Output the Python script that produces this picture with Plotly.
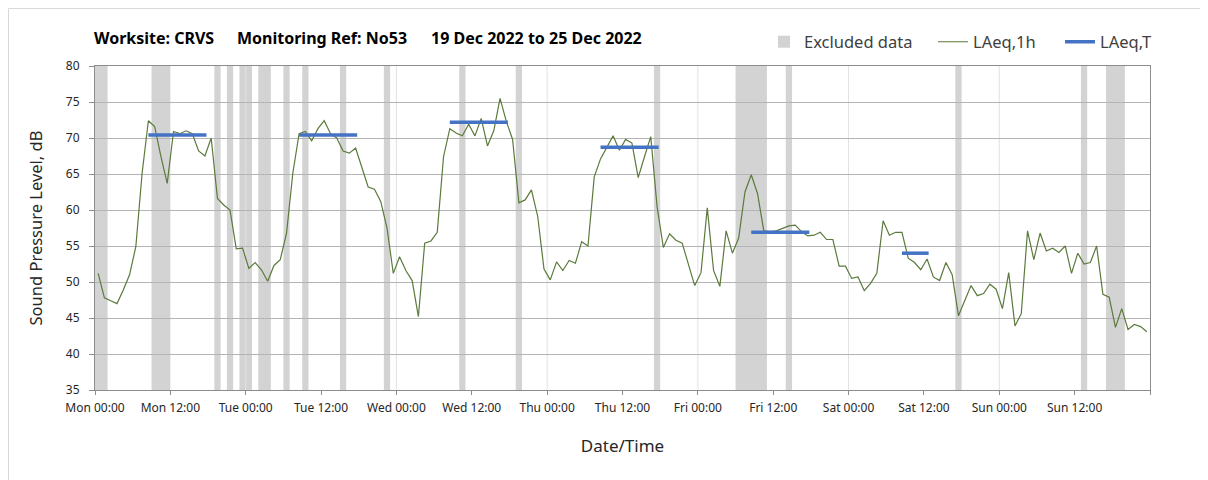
import datetime as dt
import plotly.graph_objects as go

# ---------------- data ----------------
START = dt.datetime(2022, 12, 19)  # Monday 00:00

# hourly LAeq,1h values (dB), one per hour from Mon 00:00
LAEQ_1H = [51.2, 47.8, 47.4, 47.0, 48.9, 51.0, 54.9, 65.1, 72.4, 71.6,
           67.4, 63.7, 70.9, 70.6, 71.0, 70.6, 68.2, 67.5, 70.0, 61.6,
           60.7, 60.0, 54.6, 54.7, 51.9, 52.7, 51.7, 50.1, 52.3, 53.1,
           56.8, 65.1, 70.6, 70.9, 69.6, 71.3, 72.4, 70.6, 70.0, 68.2,
           67.9, 68.6, 65.9, 63.2, 62.9, 61.2, 57.5, 51.2, 53.5, 51.6,
           50.2, 45.2, 55.4, 55.7, 56.9, 67.4, 71.3, 70.7, 70.3, 71.9,
           70.3, 72.7, 68.9, 71.0, 75.5, 72.3, 69.8, 61.0, 61.4, 62.8,
           59.1, 51.8, 50.3, 52.8, 51.6, 53.0, 52.6, 55.6, 55.0, 64.6,
           67.1, 68.6, 70.3, 68.3, 69.8, 69.3, 64.5, 67.4, 70.2, 60.5,
           54.8, 56.7, 55.8, 55.4, 52.6, 49.5, 51.3, 60.3, 51.6, 49.4,
           57.1, 54.0, 56.1, 62.5, 64.9, 62.3, 57.1, 57.0, 57.1, 57.5,
           57.8, 57.9, 57.0, 56.4, 56.5, 56.9, 55.9, 55.9, 52.2, 52.2,
           50.5, 50.7, 48.8, 49.8, 51.2, 58.5, 56.5, 56.9, 56.9, 53.3,
           52.7, 51.7, 53.2, 50.7, 50.2, 52.7, 51.0, 45.3, 47.4, 49.5,
           48.1, 48.4, 49.7, 49.0, 46.3, 51.3, 43.9, 45.6, 57.1, 53.1,
           56.8, 54.3, 54.7, 54.1, 55.0, 51.2, 54.0, 52.5, 52.7, 55.0,
           48.3, 47.9, 43.7, 46.3, 43.4, 44.1, 43.8, 43.1]

# excluded periods, hours from Mon 00:00
EXCLUDED_START_H = [0, 9, 19, 21, 23, 26, 30, 33, 39, 46, 58, 67, 89, 102, 110, 137, 157, 161]
EXCLUDED_END_H = [2, 12, 20, 22, 25, 28, 31, 34, 40, 47, 59, 68, 90, 107, 111, 138, 158, 164]

# LAeq,T working-period levels
LAEQT_START_H = [8.5, 32.5, 56.5, 80.5, 104.5, 128.5]
LAEQT_END_H = [17.75, 41.75, 65.75, 89.75, 113.75, 132.75]
LAEQT_VALUE = [70.4, 70.4, 72.2, 68.7, 56.9, 54.0]

TICK_HOURS = list(range(0, 169, 12))
DAY_HOURS = list(range(24, 168, 24))
Y_MIN, Y_MAX = 35, 80

TITLE_PARTS = ["Worksite: CRVS", "Monitoring Ref: No53", "19 Dec 2022 to 25 Dec 2022"]

# ---------------- helpers ----------------
def t(h):
    return START + dt.timedelta(hours=h)

OFF = 8                     # page offset of the figure (body margin)
W, H = 1208 - OFF, 480 - OFF
PL, PR, PT, PB = 95 - OFF, 1150 - OFF, 66 - OFF, 390 - OFF  # plot area in figure px


def px_x(p):  # page px -> paper x
    return (p - OFF - PL) / (PR - PL)


def px_y(p):  # page px -> paper y
    return 1 - (p - OFF - PT) / (PB - PT)


FONT = "Noto Sans"
times = [t(h + 0.5) for h in range(len(LAEQ_1H))]

lt_x, lt_y = [], []
for s, e, v in zip(LAEQT_START_H, LAEQT_END_H, LAEQT_VALUE):
    lt_x += [t(s), t(e), None]
    lt_y += [v, v, None]

fig = go.Figure()
fig.add_trace(go.Scatter(x=times, y=LAEQ_1H, mode="lines", name="LAeq,1h",
                         line=dict(color="#5B7A3C", width=1.2), legend="legend2"))
fig.add_trace(go.Scatter(x=lt_x, y=lt_y, mode="lines", name="LAeq,T",
                         line=dict(color="#4472C4", width=3.5), legend="legend3"))

shapes = []
for i, (s, e) in enumerate(zip(EXCLUDED_START_H, EXCLUDED_END_H)):
    shapes.append(dict(type="rect", xref="x", yref="y", x0=t(s), x1=t(e), y0=Y_MIN, y1=Y_MAX,
                       fillcolor="#D3D3D3", line=dict(width=0), layer="below",
                       showlegend=(i == 0), name="Excluded data", legendgroup="excl",
                       legend="legend"))
# vertical day gridlines
for h in DAY_HOURS:
    shapes.append(dict(type="line", xref="x", yref="y", x0=t(h), x1=t(h), y0=Y_MIN, y1=Y_MAX,
                       line=dict(color="#E2E2E2", width=1), layer="below"))
# chart area border
shapes.append(dict(type="rect", xref="paper", yref="paper",
                   x0=px_x(8.5), x1=px_x(1230), y0=px_y(500), y1=px_y(8.5),
                   line=dict(color="#D9D9D9", width=1), fillcolor="rgba(0,0,0,0)", layer="below"))

ticktext = [t(h).strftime("%a %H:%M") for h in TICK_HOURS]
ticktext[-1] = ""

annotations = []
for txt, xp in zip(TITLE_PARTS, [92, 235, 429]):
    annotations.append(dict(text=txt, xref="paper", yref="paper", x=px_x(xp), y=px_y(38),
                            xanchor="left", yanchor="middle", showarrow=False,
                            font=dict(family=FONT, size=16, color="#000000", weight="bold")))

legend_common = dict(orientation="h", xanchor="left", yanchor="middle", y=px_y(42),
                     bgcolor="rgba(0,0,0,0)", font=dict(family=FONT, size=16.5, color="#404040"),
                     itemclick=False, itemdoubleclick=False)

fig.update_layout(
    width=W, height=H,
    margin=dict(l=PL, r=W - PR, t=PT, b=H - PB),
    paper_bgcolor="white", plot_bgcolor="white",
    font=dict(family=FONT, color="#404040"),
    shapes=shapes, annotations=annotations,
    legend=dict(x=px_x(764), **legend_common),
    legend2=dict(x=px_x(933), **legend_common),
    legend3=dict(x=px_x(1060), **legend_common),
    xaxis=dict(type="date", range=[t(0), t(168)], tickmode="array",
               tickvals=[t(h) for h in TICK_HOURS], ticktext=ticktext,
               showgrid=False, zeroline=False, showline=True, linecolor="#8C8C8C", mirror=True,
               ticks="outside", ticklen=4, tickcolor="#8C8C8C", ticklabelstandoff=3,
               tickfont=dict(family=FONT, size=12, color="#262626"),
               title=dict(text="Date/Time", font=dict(family=FONT, size=17, color="#262626"), standoff=24)),
    yaxis=dict(range=[Y_MIN, Y_MAX], dtick=5, tick0=Y_MIN, showgrid=True, gridcolor="#B4B4B4",
               zeroline=False, showline=True, linecolor="#8C8C8C", mirror=True,
               ticks="outside", ticklen=5, tickcolor="#8C8C8C", ticklabelstandoff=7,
               tickfont=dict(family=FONT, size=12, color="#262626"),
               title=dict(text="Sound Pressure Level, dB", font=dict(family=FONT, size=16.5, color="#262626"),
                          standoff=19)),
)

fig.write_html("out.html")
